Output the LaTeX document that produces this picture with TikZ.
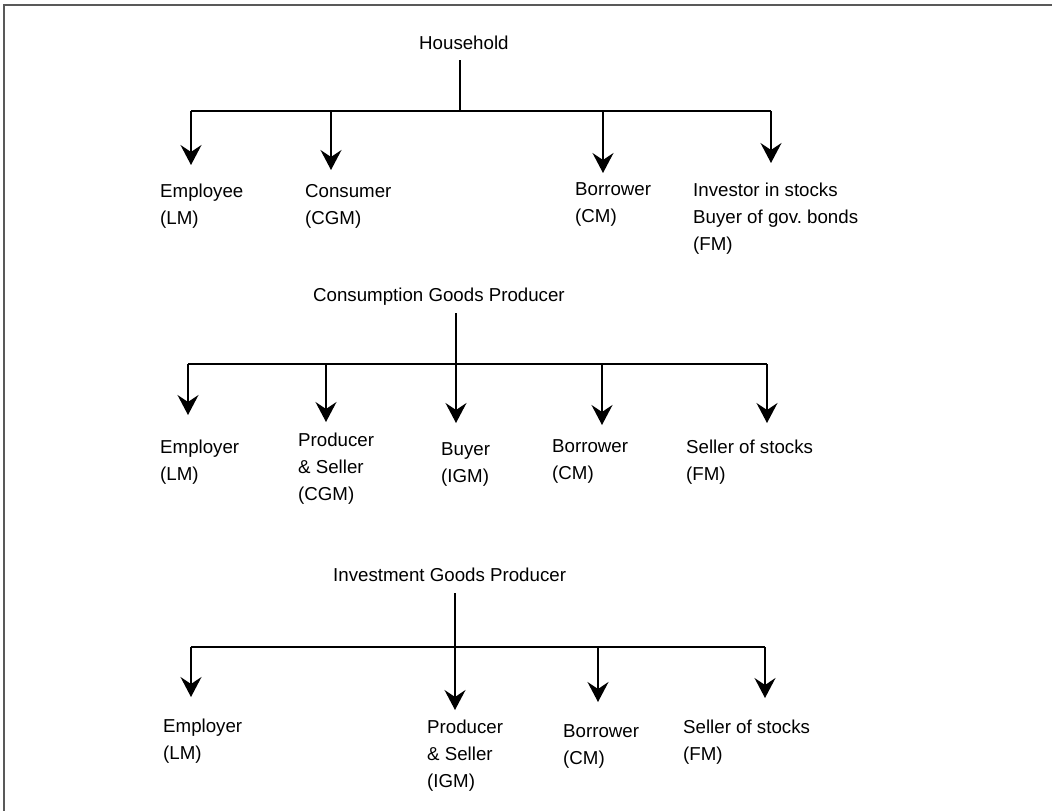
\documentclass[tikz,border=0pt]{standalone}
\usepackage{fontspec}
\setmainfont{Liberation Sans}
\usetikzlibrary{arrows.meta}
\frenchspacing
\begin{document}
\begin{tikzpicture}[x=1pt,y=-1pt,
  lbl/.style={anchor=north west,inner sep=0pt,align=left,font=\fontsize{18.7}{27}\selectfont},
  hdr/.style={anchor=base west,inner sep=0pt,font=\fontsize{18.7}{27}\selectfont},
  bar/.style={line width=1.6pt},
  stem/.style={line width=2.2pt},
  arr/.style={line width=1.6pt,-{Stealth[length=20pt,width=21pt,inset=7pt]}},
  frame/.style={line width=1.4pt,draw=black!65}]
\useasboundingbox (0,0) rectangle (1052,811);
\draw[frame] (4,811) -- (4,5) -- (1052,5);

% ---------- Household ----------
\node[hdr] (hh) at (419,49) {Household};
\coordinate (j1) at (460,111);
\coordinate (a1) at (191,111); \coordinate (a2) at (331,111);
\coordinate (a3) at (603,111); \coordinate (a4) at (771,111);
\coordinate (t1) at (191,165); \coordinate (t2) at (331,170);
\coordinate (t3) at (603,173); \coordinate (t4) at (771,163);
\draw[stem] ([yshift=-11pt]hh.south -| j1) -- (j1);
\draw[bar] (a1) -- (a4);
\foreach \i in {1,...,4} \draw[arr] (a\i) -- (t\i);
\node[lbl] (emp1) at (160,184) {Employee\\(LM)};
\node[lbl] (con1) at (305,184) {Consumer\\(CGM)};
\node[lbl] (bor1) at (575,182) {Borrower\\(CM)};
\node[lbl] (inv1) at (693,183) {Investor in stocks\\Buyer of gov.\ bonds\\(FM)};

% ---------- Consumption Goods Producer ----------
\node[hdr] (cgp) at (313,301) {Consumption Goods Producer};
\coordinate (j2) at (456,364);
\coordinate (b1) at (188,364); \coordinate (b2) at (326,364);
\coordinate (b3) at (456,364); \coordinate (b4) at (602,364);
\coordinate (b5) at (767,364);
\coordinate (u1) at (188,415); \coordinate (u2) at (326,422);
\coordinate (u3) at (456,423); \coordinate (u4) at (602,425);
\coordinate (u5) at (767,423);
\draw[stem] ([yshift=-8pt]cgp.south -| j2) -- (j2);
\draw[bar] (b1) -- (b5);
\foreach \i in {1,...,5} \draw[arr] (b\i) -- (u\i);
\node[lbl] (emp2) at (160,440) {Employer\\(LM)};
\node[lbl] (pro2) at (298,433) {Producer\\\& Seller\\(CGM)};
\node[lbl] (buy2) at (441,442) {Buyer\\(IGM)};
\node[lbl] (bor2) at (552,439) {Borrower\\(CM)};
\node[lbl] (sel2) at (686,440) {Seller of stocks\\(FM)};

% ---------- Investment Goods Producer ----------
\node[hdr] (igp) at (333,581) {Investment Goods Producer};
\coordinate (j3) at (455,647);
\coordinate (c1) at (191,647); \coordinate (c2) at (455,647);
\coordinate (c3) at (598,647); \coordinate (c4) at (765,647);
\coordinate (v1) at (191,697); \coordinate (v2) at (455,710);
\coordinate (v3) at (598,702); \coordinate (v4) at (765,698);
\draw[stem] ([yshift=-12pt]igp.south -| j3) -- (j3);
\draw[bar] (c1) -- (c4);
\foreach \i in {1,...,4} \draw[arr] (c\i) -- (v\i);
\node[lbl] (emp3) at (163,719) {Employer\\(LM)};
\node[lbl] (pro3) at (427,720) {Producer\\\& Seller\\(IGM)};
\node[lbl] (bor3) at (563,724) {Borrower\\(CM)};
\node[lbl] (sel3) at (683,720) {Seller of stocks\\(FM)};
\end{tikzpicture}
\end{document}
